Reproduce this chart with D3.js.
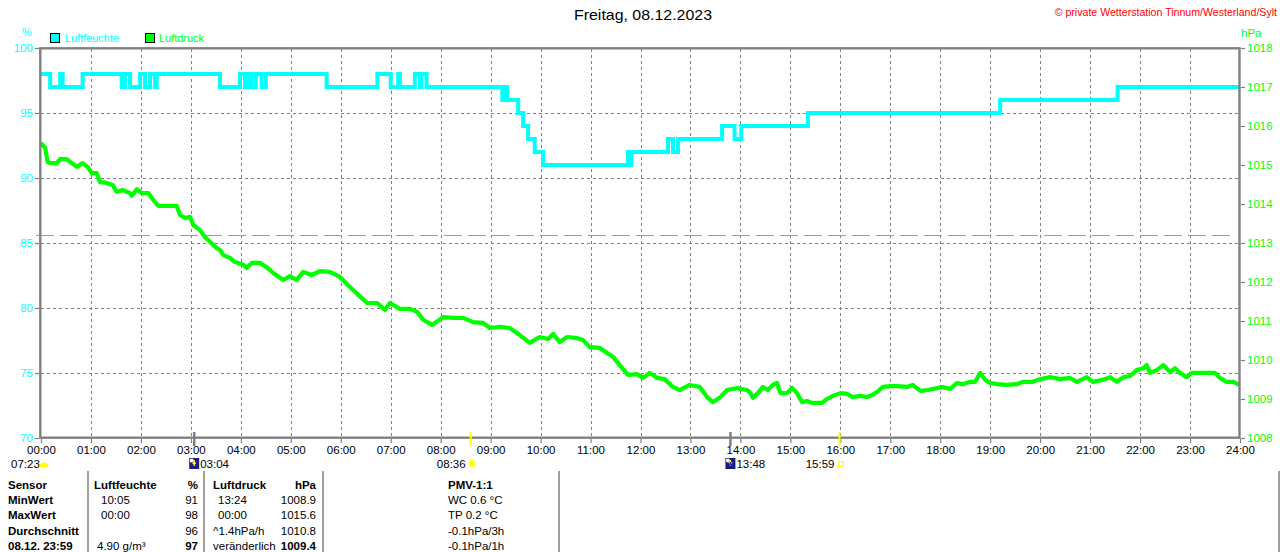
<!DOCTYPE html>
<html><head><meta charset="utf-8">
<script src="https://cdn.jsdelivr.net/npm/d3@7"></script>
<style>body{margin:0;background:#fff}svg{display:block;font-family:"Liberation Sans",Arial,sans-serif}</style>
</head><body><svg id="c" width="1280" height="552"></svg>
<script>
// ---------- data ----------
const titleText = "Freitag, 08.12.2023";
const copyrightText = "\u00a9 private Wetterstation Tinnum/Westerland/Sylt";
const seriesNames = ["Luftfeuchte", "Luftdruck"];
const hourTicks = d3.range(0, 25);              // hours 00..24
const humidityTicks = [70, 75, 80, 85, 90, 95, 100];
const pressureTicks = [1008, 1009, 1010, 1011, 1012, 1013, 1014, 1015, 1016, 1017, 1018];
const referencePressure = 1013.2;

// humidity steps: [minute of day, %]
const humiditySteps = [[0,98],[11,97],[23,98],[26,97],[50,98],[97,97],[101,98],[107,97],[119,98],[125,97],[131,98],[137,97],[139,98],
 [215,97],[239,98],[245,97],[249,98],[253,97],[258,98],[265,97],[270,98],[343,97],[404,98],[420,97],[429,98],[431,97],[449,98],[455,97],[457,98],[463,97],
 [554,96],[557,97],[560,96],[573,95],[579,94],[585,93],[593,92],[603,91],[705,92],[707,91],[709,92],[753,93],[759,92],[765,93],
 [818,94],[833,93],[841,94],[921,95],[1152,96],[1293,97],[1440,97]];

// pressure: [minute of day, hPa]
const pressureSeries = [[0,1015.56],[5,1015.44],[8,1015.08],[11,1015.05],[19,1015.05],[23,1015.15],[31,1015.15],[35,1015.08],[43,1014.95],[50,1015.05],
 [56,1014.95],[61,1014.79],[67,1014.79],[71,1014.56],[79,1014.54],[86,1014.49],[91,1014.31],[98,1014.36],[107,1014.28],[109,1014.21],[115,1014.38],
 [121,1014.28],[129,1014.28],[135,1014.10],[141,1013.95],[163,1013.95],[167,1013.72],[173,1013.64],[179,1013.67],[183,1013.46],[191,1013.33],
 [197,1013.15],[203,1013.03],[211,1012.87],[215,1012.82],[219,1012.69],[227,1012.62],[233,1012.51],[243,1012.44],[247,1012.36],[253,1012.49],
 [263,1012.49],[271,1012.38],[279,1012.23],[291,1012.05],[299,1012.15],[307,1012.05],[315,1012.26],[325,1012.18],[335,1012.28],[347,1012.26],
 [359,1012.13],[371,1011.87],[381,1011.67],[392,1011.46],[404,1011.46],[413,1011.28],[419,1011.46],[431,1011.31],[443,1011.31],[452,1011.23],
 [459,1011.03],[470,1010.90],[483,1011.10],[495,1011.08],[507,1011.08],[519,1010.97],[531,1010.95],[539,1010.82],[551,1010.85],[563,1010.82],
 [575,1010.64],[587,1010.44],[599,1010.59],[609,1010.54],[615,1010.67],[623,1010.46],[632,1010.59],[644,1010.56],[651,1010.51],[659,1010.33],
 [671,1010.31],[680,1010.18],[687,1010.08],[695,1009.87],[705,1009.62],[716,1009.64],[723,1009.54],[731,1009.67],[740,1009.54],[749,1009.51],
 [759,1009.31],[767,1009.23],[779,1009.36],[791,1009.31],[800,1009.05],[807,1008.92],[815,1009.03],[824,1009.23],[836,1009.28],[848,1009.23],
 [852,1009.15],[855,1009.03],[861,1009.15],[867,1009.31],[873,1009.23],[879,1009.36],[884,1009.41],[888,1009.15],[896,1009.15],[902,1009.28],
 [908,1009.15],[914,1008.92],[920,1008.95],[926,1008.90],[938,1008.90],[944,1009.00],[951,1009.08],[960,1009.15],[968,1009.13],[975,1009.05],
 [984,1009.08],[992,1009.05],[998,1009.10],[1004,1009.18],[1011,1009.31],[1020,1009.33],[1029,1009.33],[1040,1009.31],[1047,1009.36],[1056,1009.21],
 [1065,1009.23],[1076,1009.28],[1083,1009.31],[1092,1009.26],[1100,1009.41],[1107,1009.38],[1116,1009.44],[1122,1009.44],[1128,1009.67],[1134,1009.49],
 [1140,1009.41],[1149,1009.38],[1160,1009.36],[1172,1009.38],[1179,1009.44],[1191,1009.44],[1200,1009.51],[1212,1009.56],[1224,1009.51],[1236,1009.54],
 [1244,1009.44],[1256,1009.56],[1263,1009.44],[1275,1009.49],[1284,1009.56],[1292,1009.44],[1300,1009.56],[1308,1009.59],[1316,1009.74],[1324,1009.79],
 [1328,1009.87],[1332,1009.67],[1340,1009.74],[1348,1009.87],[1356,1009.69],[1362,1009.79],[1368,1009.67],[1376,1009.56],[1382,1009.67],[1400,1009.67],
 [1410,1009.67],[1416,1009.54],[1424,1009.44],[1432,1009.44],[1439,1009.36]];

// astronomical events: [minute, type, label]
const events = [[184,"moonrise","03:04"],[516,"sunrise","08:36"],[828,"moonset","13:48"],[959,"sunset","15:59"]];
const dayLength = "07:23";

// summary table
const tableRows = [
 ["Sensor","Luftfeuchte","%","Luftdruck","hPa","PMV-1:1"],
 ["MinWert","10:05","91","13:24","1008.9","WC 0.6 \u00b0C"],
 ["MaxWert","00:00","98","00:00","1015.6","TP 0.2 \u00b0C"],
 ["Durchschnitt","","96","^1.4hPa/h","1010.8","-0.1hPa/3h"],
 ["08.12. 23:59","4.90 g/m\u00b3","97","ver\u00e4nderlich","1009.4","-0.1hPa/1h"]];

// ---------- drawing ----------
const C_H = "#00ffff", C_P = "#00ff00", GRAY = "#808080";
const svg = d3.select("#c");
const x = d3.scaleLinear().domain([0, 1440]).range([41, 1240]);
const yH = d3.scaleLinear().domain([70, 100]).range([438, 48]);
const yP = d3.scaleLinear().domain([1008, 1018]).range([438, 48]);
const pad = n => String(n).padStart(2, "0");

// grid
const grid = svg.append("g").attr("stroke", GRAY).attr("stroke-width", 1).attr("stroke-dasharray", "3,3");
hourTicks.slice(1, -1).forEach(h => {
  const px = Math.round(x(h * 60)) + 0.5;
  grid.append("line").attr("x1", px).attr("x2", px).attr("y1", 49).attr("y2", 437);
});
humidityTicks.slice(1, -1).forEach(v => {
  const py = Math.round(yH(v)) + 0.5;
  grid.append("line").attr("x1", 41).attr("x2", 1239).attr("y1", py).attr("y2", py);
});

// reference pressure line
svg.append("line").attr("x1", x(0) - 5).attr("x2", x(1430))
  .attr("y1", Math.round(yP(referencePressure)) + 0.5).attr("y2", Math.round(yP(referencePressure)) + 0.5)
  .attr("stroke", "#40dd40").attr("stroke-width", 1.2).attr("stroke-dasharray", "18,6");

// series
svg.append("path").datum(humiditySteps)
  .attr("d", d3.line().x(d => x(d[0])).y(d => yH(d[1])).curve(d3.curveStepAfter))
  .attr("fill", "none").attr("stroke", C_H).attr("stroke-width", 4);
svg.append("path").datum(pressureSeries)
  .attr("d", d3.line().x(d => x(d[0])).y(d => yP(d[1])))
  .attr("fill", "none").attr("stroke", C_P).attr("stroke-width", 4.2).attr("stroke-linejoin", "round");

// frame
svg.append("rect").attr("x", 40.3).attr("y", 48.3).attr("width", 1199.2).attr("height", 389.4)
  .attr("fill", "none").attr("stroke", GRAY).attr("stroke-width", 2.4);

// axes
function styleAxis(g, color) {
  g.select(".domain").remove();
  g.selectAll(".tick line").attr("stroke", GRAY).attr("stroke-width", 1.2);
  g.selectAll(".tick text").attr("fill", color).attr("font-size", 11.5)
   .attr("font-family", '"Liberation Sans",Arial,sans-serif');
}
svg.append("g").attr("transform", "translate(39,0)")
  .call(d3.axisLeft(yH).tickValues(humidityTicks).tickFormat(d3.format("d")).tickSize(4).tickPadding(2))
  .call(g => styleAxis(g, C_H));
svg.append("g").attr("transform", "translate(1241,0)")
  .call(d3.axisRight(yP).tickValues(pressureTicks).tickFormat(d3.format("d")).tickSize(4).tickPadding(2))
  .call(g => styleAxis(g, C_P));
svg.append("g").attr("transform", "translate(0,439)")
  .call(d3.axisBottom(x).tickValues(hourTicks.map(h => h * 60)).tickFormat(m => pad(m / 60) + ":00").tickSize(4).tickPadding(3))
  .call(g => styleAxis(g, "#000"));

// units
svg.append("text").attr("x", 27).attr("y", 36).attr("text-anchor", "middle").attr("fill", C_H).attr("font-size", 11).text("%");
svg.append("text").attr("x", 1241).attr("y", 37).attr("fill", C_P).attr("font-size", 11.5).text("hPa");

// title + copyright
svg.append("text").attr("x", 643).attr("y", 20).attr("text-anchor", "middle").attr("font-size", 14.5)
  .attr("textLength", 138).attr("lengthAdjust", "spacingAndGlyphs").text(titleText);
svg.append("text").attr("x", 1277).attr("y", 16).attr("text-anchor", "end").attr("fill", "#ff0000").attr("font-size", 10.6)
  .text(copyrightText);

// legend
[[50, 65, C_H, 54], [145, 159, C_P, 45]].forEach((p, i) => {
  svg.append("rect").attr("x", p[0] + 0.5).attr("y", 33.5).attr("width", 9).attr("height", 9)
    .attr("fill", p[2]).attr("stroke", "#000").attr("stroke-width", 1);
  svg.append("text").attr("x", p[1]).attr("y", 42).attr("fill", p[2]).attr("font-size", 11)
    .attr("textLength", p[3]).attr("lengthAdjust", "spacingAndGlyphs").text(seriesNames[i]);
});

// events
events.forEach(([m, type, label]) => {
  const ex = x(m);
  const isSun = type.startsWith("sun");
  svg.append("line").attr("x1", ex).attr("x2", ex).attr("y1", 432).attr("y2", 446)
    .attr("stroke", isSun ? "#ffff00" : GRAY).attr("stroke-width", isSun ? 2 : 2.5);
  if (type === "moonrise" || type === "moonset") {
    svg.append("rect").attr("x", ex - 5).attr("y", 458).attr("width", 10).attr("height", 11).attr("fill", "#1c1c80");
    svg.append("circle").attr("cx", ex - 2.5).attr("cy", 460.5).attr("r", 2).attr("fill", "#fff");
    const dir = type === "moonrise" ? -1 : 1;
    svg.append("path").attr("d", `M${ex - 2},${463 - dir * 1} L${ex + 2},${463 - dir * 1} L${ex},${463 + dir * 3} Z M${ex - 0.7},${466} h1.4 v${-6}h-1.4z`)
      .attr("fill", "#ffff00");
    svg.append("text").attr("x", ex + 6).attr("y", 468).attr("font-size", 11.5).text(label);
  } else if (type === "sunrise") {
    svg.append("circle").attr("cx", ex + 1.5).attr("cy", 463.5).attr("r", 3.2).attr("fill", "#ffff00");
    const rays = svg.append("g").attr("stroke", "#ffff66").attr("stroke-width", 1);
    d3.range(8).forEach(k => {
      const a = k * Math.PI / 4;
      rays.append("line").attr("x1", ex + 1.5 + Math.cos(a) * 4).attr("y1", 463.5 + Math.sin(a) * 4)
        .attr("x2", ex + 1.5 + Math.cos(a) * 5.5).attr("y2", 463.5 + Math.sin(a) * 5.5);
    });
    svg.append("text").attr("x", ex - 5).attr("y", 468).attr("text-anchor", "end").attr("font-size", 11.5).text(label);
  } else {
    svg.append("rect").attr("x", ex - 1).attr("y", 461.5).attr("width", 5).attr("height", 5)
      .attr("fill", "none").attr("stroke", "#ffff00").attr("stroke-width", 1);
    svg.append("text").attr("x", ex - 5).attr("y", 468).attr("text-anchor", "end").attr("font-size", 11.5).text(label);
  }
});
// day length
svg.append("text").attr("x", 11).attr("y", 468).attr("font-size", 11.5).text(dayLength);
svg.append("path").attr("d", "M39.5,467 A4.5,4.5 0 0 1 48.5,467 Z").attr("fill", "#ffff00");

// table separators
[88, 204, 323, 559, 1279].forEach(sx => {
  svg.append("line").attr("x1", sx).attr("x2", sx).attr("y1", 471).attr("y2", 552)
    .attr("stroke", "#a0a0a0").attr("stroke-width", 2);
});

// table text
const colX = [8, 97, 198, 213, 316, 448];
const colAnchor = ["start", "start", "end", "start", "end", "start"];
tableRows.forEach((row, r) => {
  row.forEach((cell, c) => {
    let bold = r === 0 || c === 0 || (r === 4 && (c === 2 || c === 4));
    let cx = colX[c];
    if (r >= 1 && r <= 2 && (c === 1)) cx = 101;
    if (r >= 1 && r <= 2 && (c === 3)) cx = 218;
    if (r === 0 && c === 1) cx = 94;
    svg.append("text").attr("x", cx).attr("y", 488.5 + r * 15.4).attr("text-anchor", colAnchor[c])
      .attr("font-size", 11.5).attr("font-weight", bold ? "bold" : "normal").attr("fill", "#000").text(cell);
  });
});
</script></body></html>
